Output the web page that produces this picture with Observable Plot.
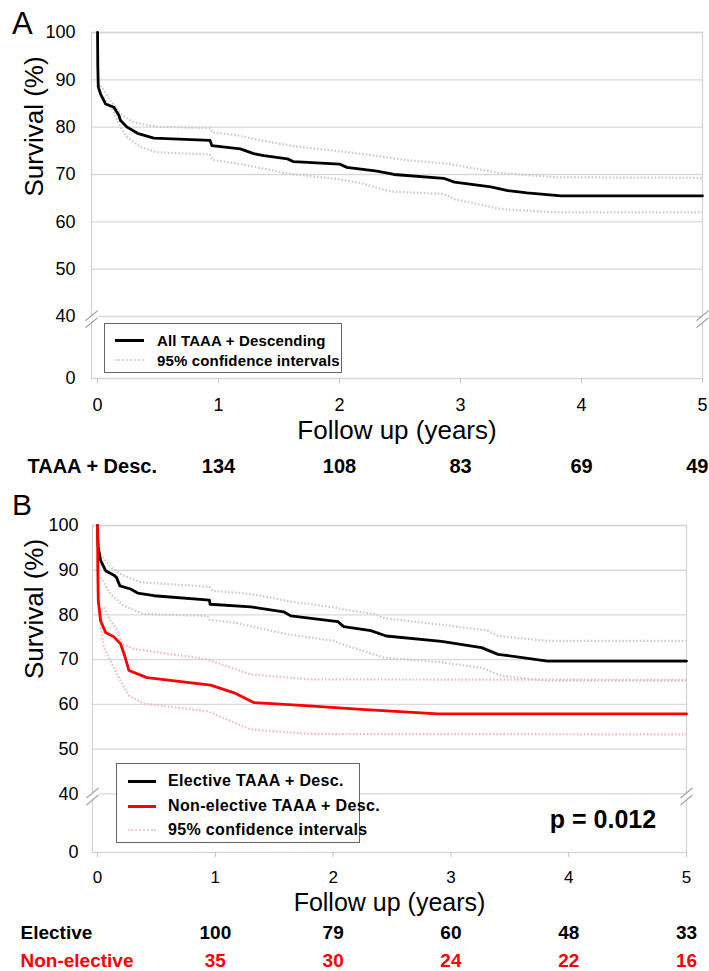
<!DOCTYPE html>
<html><head><meta charset="utf-8">
<script src="https://cdn.jsdelivr.net/npm/d3@7"></script>
<script src="https://cdn.jsdelivr.net/npm/@observablehq/plot@0.6"></script>
<style>
body{margin:0;background:#fff;font-family:"Liberation Sans",Arial,Helvetica,sans-serif;}
#wrap{position:relative;width:709px;height:971px;overflow:hidden;background:#fff;}
.panel{position:absolute;left:0;}
.plabel{position:absolute;font-size:30px;line-height:1;color:#000;}
.legend{position:absolute;border:1px solid #666;background:#fff;font-weight:bold;box-sizing:border-box;}
.lsample{position:absolute;height:0;}
.ltext{position:absolute;transform:translateY(-50%);white-space:nowrap;line-height:1;}
.pval{position:absolute;font-weight:bold;font-size:25px;transform:translate(-50%,-50%);white-space:nowrap;}
</style></head><body><div id="wrap"></div>
<script>
// ---------- data ----------
const yearTicks = [0, 1, 2, 3, 4, 5];
const yTickValues = [0, 40, 50, 60, 70, 80, 90, 100];
const gridValues = [40, 50, 60, 70, 80, 90, 100];
const atRiskYears = [1, 2, 3, 4, 5];
const atRiskAll = [134, 108, 83, 69, 49];
const atRiskElective = [100, 79, 60, 48, 33];
const atRiskNonElective = [35, 30, 24, 22, 16];

// Panel A: all TAAA + descending
const allT = [0, 0.002, 0.006, 0.025, 0.066, 0.135, 0.176, 0.19, 0.245, 0.33, 0.465, 0.93, 0.945, 1.18, 1.29, 1.375, 1.57, 1.62, 2.0, 2.06, 2.31, 2.45, 2.86, 2.95, 3.25, 3.39, 3.55, 3.83, 5];
const allS = [100, 93, 88.5, 87.0, 84.9, 84.2, 82.5, 81.4, 80.0, 78.7, 77.7, 77.2, 76.1, 75.4, 74.4, 74.0, 73.3, 72.7, 72.2, 71.5, 70.7, 70.0, 69.2, 68.4, 67.4, 66.6, 66.1, 65.5, 65.5];
const allUpT = [0.025, 0.107, 0.19, 0.3, 0.49, 0.93, 0.95, 1.13, 1.35, 1.62, 2.17, 2.56, 2.89, 3.33, 3.8, 5];
const allUpS = [88.8, 85.6, 82.8, 81.0, 80.1, 79.8, 78.9, 78.4, 77.2, 76.0, 74.4, 73.0, 72.3, 70.3, 69.4, 69.3];
const allLoT = [0.052, 0.135, 0.19, 0.245, 0.355, 0.49, 0.93, 0.95, 1.18, 1.6, 2.0, 2.17, 2.42, 2.86, 2.95, 3.33, 3.8, 5];
const allLoS = [86.3, 83.2, 80.0, 77.9, 75.8, 74.7, 74.2, 73.1, 72.2, 70.1, 69.0, 68.2, 66.4, 65.9, 64.8, 62.7, 62.0, 62.0];

// Panel B: elective
const elT = [0, 0.002, 0.006, 0.026, 0.068, 0.139, 0.16, 0.19, 0.28, 0.34, 0.48, 0.95, 0.955, 1.3, 1.58, 1.64, 2.04, 2.09, 2.32, 2.45, 2.92, 3.26, 3.4, 3.82, 5];
const elS = [100, 97, 95.1, 92.2, 89.9, 88.9, 88.4, 86.5, 85.8, 84.9, 84.3, 83.3, 82.4, 81.8, 80.7, 79.8, 78.5, 77.4, 76.5, 75.3, 74.1, 72.7, 71.2, 69.7, 69.7];
const elUpT = [0.026, 0.11, 0.22, 0.37, 0.95, 0.975, 1.3, 1.64, 2.01, 2.07, 2.35, 2.43, 2.92, 3.31, 3.4, 3.82, 5];
const elUpS = [93.6, 90.7, 88.8, 87.3, 86.3, 85.4, 84.7, 83.0, 81.7, 81.3, 80.2, 79.3, 77.8, 76.5, 75.3, 74.2, 74.2];
const elLoT = [0.026, 0.11, 0.22, 0.39, 0.93, 0.95, 1.16, 1.61, 2.01, 2.07, 2.43, 2.92, 3.26, 3.43, 3.82, 5];
const elLoS = [88.4, 84.7, 82.1, 80.2, 79.8, 78.9, 78.3, 75.7, 74.2, 73.5, 70.5, 69.4, 68.2, 66.4, 65.3, 65.3];

// Panel B: non-elective
const neT = [0, 0.002, 0.006, 0.026, 0.068, 0.139, 0.196, 0.23, 0.266, 0.42, 0.96, 1.16, 1.33, 1.73, 2.24, 2.89, 5];
const neS = [100, 90, 83.2, 78.7, 76.1, 75.1, 73.5, 70.9, 67.6, 66.0, 64.3, 62.6, 60.4, 59.8, 58.9, 57.9, 57.9];
const neUpT = [0.054, 0.11, 0.17, 0.21, 0.31, 0.93, 1.3, 1.81, 5];
const neUpS = [81.7, 78.7, 76.5, 73.5, 72.4, 70.1, 66.7, 65.6, 65.5];
const neLoT = [0.02, 0.054, 0.139, 0.21, 0.27, 0.39, 0.93, 1.3, 1.81, 5];
const neLoS = [78.7, 72.7, 68.2, 64.5, 61.9, 60.2, 58.5, 54.4, 53.4, 53.3];

// ---------- helpers ----------
const FONT = '"Liberation Sans", Arial, Helvetica, sans-serif';
const BREAK_AT = 40, BREAK_K = 13.1 / 40;   // 0–40 is compressed below the axis break
const disp = v => v >= BREAK_AT ? v : BREAK_AT - (BREAK_AT - v) * BREAK_K;
const yTickPos = yTickValues.map(disp);
const rows = (id, T, S) => T.map((t, i) => ({id, t, s: S[i]}));

// axis-break symbols (two parallel slashes, with a white mask between them)
const breakMask = {draw(ctx) { ctx.moveTo(-6, 2); ctx.lineTo(6, -8); ctx.lineTo(6, -1); ctx.lineTo(-6, 9); ctx.closePath(); }};
const breakLines = {draw(ctx) { ctx.moveTo(-6, 2); ctx.lineTo(6, -8); ctx.moveTo(-6, 9); ctx.lineTo(6, -1); }};

function panel(cfg) {
  const xMax = cfg.xDomain[1];
  const edges = [cfg.xDomain[0], xMax];
  const marks = [
    Plot.gridY(gridValues.map(disp), {stroke: "#d9d9d9", strokeOpacity: 1, strokeWidth: 1.3}),
    Plot.frame({stroke: "#d4d4d4", strokeWidth: 1.3}),
    Plot.axisY(yTickPos, {tickSize: 0, tickPadding: cfg.yPad, fontSize: cfg.yFont, label: null,
      tickFormat: d => String(yTickValues[yTickPos.indexOf(d)])}),
    Plot.axisX(yearTicks, {tickSize: 5, stroke: "#c4c4c4", fill: "black", tickPadding: cfg.xPad, fontSize: cfg.xFont, label: null,
      tickFormat: d => String(d)}),
  ];
  for (const c of cfg.ci) {
    marks.push(Plot.line(c.data, {x: "t", y: d => disp(d.s), z: "id", stroke: c.color, strokeWidth: 2.2,
      strokeDasharray: "1.5 2", strokeLinecap: "butt", curve: "linear"}));
  }
  for (const s of cfg.series) {
    marks.push(Plot.line(s.data, {x: "t", y: d => disp(d.s), stroke: s.color, strokeWidth: 2.8, curve: "linear"}));
  }
  // axis break marks
  marks.push(Plot.dot(edges, {x: d => d, y: () => disp(38.6), symbol: breakMask, fill: "white", stroke: "white", strokeWidth: 1}));
  marks.push(Plot.dot(edges, {x: d => d, y: () => disp(38.6), symbol: breakLines, fill: "none", stroke: "#a8a8a8", strokeWidth: 1.3}));
  // axis titles
  marks.push(Plot.text(["Survival (%)"], {frameAnchor: "left", lineAnchor: "middle", text: d => d, rotate: -90,
    dx: cfg.yLabDx, dy: cfg.yLabDy, fontSize: 26}));
  marks.push(Plot.text(["Follow up (years)"], {frameAnchor: "bottom", lineAnchor: "middle", text: d => d,
    dy: cfg.xLabDy, fontSize: cfg.xLabFont}));
  // numbers at risk
  for (const r of cfg.risk) {
    const pts = atRiskYears.map((t, i) => ({t, n: r.counts[i]}));
    const common = {x: "t", text: d => String(d.n), frameAnchor: "bottom", lineAnchor: "middle", dy: r.dy,
      fontSize: r.font, fontWeight: "bold", fill: r.color};
    marks.push(Plot.text(pts.filter(d => !(r.endLast && d.t === xMax)), common));
    if (r.endLast) marks.push(Plot.text(pts.filter(d => d.t === xMax), {...common, textAnchor: "end", dx: r.endDx}));
    marks.push(Plot.text([r.label], {frameAnchor: "bottom-left", lineAnchor: "middle", text: d => d, textAnchor: "start",
      dx: r.labelX - cfg.marginLeft, dy: r.dy, fontSize: r.font, fontWeight: "bold", fill: r.color}));
  }
  return Plot.plot({
    width: 709, height: cfg.height,
    marginLeft: cfg.marginLeft, marginRight: cfg.marginRight, marginTop: cfg.marginTop, marginBottom: cfg.marginBottom,
    x: {domain: cfg.xDomain},
    y: {domain: [disp(0), 100]},
    style: {fontFamily: FONT, overflow: "visible", background: "white", color: "black"},
    marks
  });
}

const wrap = document.getElementById("wrap");

const svgA = panel({
  height: 480, marginLeft: 91, marginRight: 7, marginTop: 32, marginBottom: 102,
  xDomain: [-0.05, 5], yPad: 16, yFont: 18, xPad: 15, xFont: 18,
  yLabDx: -57, yLabDy: -9, xLabDy: 52, xLabFont: 26,
  ci: [{data: rows("u", allUpT, allUpS).concat(rows("l", allLoT, allLoS)), color: "#c8c8c8"}],
  series: [{data: rows("all", allT, allS), color: "black"}],
  risk: [{label: "TAAA + Desc.", counts: atRiskAll, dy: 88, color: "black", labelX: 27, font: 20, endLast: true, endDx: 6}]
});
svgA.classList.add("panel"); svgA.style.top = "0px";
wrap.appendChild(svgA);

const svgB = panel({
  height: 491, marginLeft: 92, marginRight: 23, marginTop: 45, marginBottom: 119,
  xDomain: [-0.043, 5], yPad: 14, yFont: 18, xPad: 13, xFont: 17,
  yLabDx: -58, yLabDy: -10, xLabDy: 50, xLabFont: 25,
  ci: [
    {data: rows("eu", elUpT, elUpS).concat(rows("el", elLoT, elLoS)), color: "#c8c8c8"},
    {data: rows("nu", neUpT, neUpS).concat(rows("nl", neLoT, neLoS)), color: "#f3b8b8"}
  ],
  series: [{data: rows("el", elT, elS), color: "black"}, {data: rows("ne", neT, neS), color: "#ff0000"}],
  risk: [
    {label: "Elective", counts: atRiskElective, dy: 80, color: "black", labelX: 20, font: 19},
    {label: "Non-elective", counts: atRiskNonElective, dy: 108, color: "#ff0000", labelX: 20, font: 19}
  ]
});
svgB.classList.add("panel"); svgB.style.top = "480px";
wrap.appendChild(svgB);

// panel letters
function addDiv(cls, html, css) { const d = document.createElement("div"); d.className = cls; d.innerHTML = html; Object.assign(d.style, css); wrap.appendChild(d); return d; }
addDiv("plabel", "A", {left: "12px", top: "8px", fontSize: "31px"});
addDiv("plabel", "B", {left: "12px", top: "490px", fontSize: "30px"});

// legends
function legend(box, items, fontSize, spacing) {
  const lg = addDiv("legend", "", {left: box.left + "px", top: box.top + "px", width: box.width + "px", height: box.height + "px",
    fontSize: fontSize + "px", letterSpacing: spacing + "px"});
  items.forEach(it => {
    const s = document.createElement("div"); s.className = "lsample";
    Object.assign(s.style, {left: it.sx + "px", width: it.sw + "px", top: (it.y - (it.dotted ? 1 : 1.5)) + "px",
      borderTop: it.dotted ? `2px dotted ${it.color}` : `3px solid ${it.color}`});
    lg.appendChild(s);
    const t = document.createElement("div"); t.className = "ltext"; t.textContent = it.text;
    Object.assign(t.style, {left: it.tx + "px", top: it.y + "px"});
    lg.appendChild(t);
  });
}
legend({left: 104, top: 323, width: 238, height: 50}, [
  {text: "All TAAA + Descending", color: "black", y: 16, sx: 10, sw: 29, tx: 52},
  {text: "95% confidence intervals", color: "#dcdcdc", dotted: true, y: 36, sx: 10, sw: 29, tx: 52}
], 15, 0.15);
legend({left: 116, top: 763, width: 244, height: 80}, [
  {text: "Elective TAAA + Desc.", color: "black", y: 17, sx: 11, sw: 28, tx: 51},
  {text: "Non-elective TAAA + Desc.", color: "#ff0000", y: 42, sx: 11, sw: 28, tx: 51},
  {text: "95% confidence intervals", color: "#f3d0d0", dotted: true, y: 66, sx: 11, sw: 28, tx: 51}
], 16, 0.35);

addDiv("pval", "p = 0.012", {left: "603px", top: "819px"});
</script></body></html>
